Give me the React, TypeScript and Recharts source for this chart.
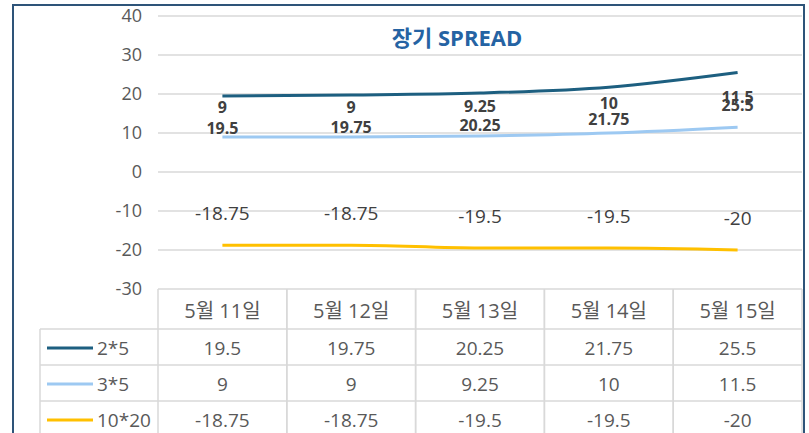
import { LineChart, Line, XAxis, YAxis, CartesianGrid, LabelList } from 'recharts'

// 날짜 / 스프레드 값 (bp)
const categories = ['5월 11일', '5월 12일', '5월 13일', '5월 14일', '5월 15일']
const spread2x5 = [19.5, 19.75, 20.25, 21.75, 25.5]
const spread3x5 = [9, 9, 9.25, 10, 11.5]
const spread10x20 = [-18.75, -18.75, -19.5, -19.5, -20]
const yTicks = [-30, -20, -10, 0, 10, 20, 30, 40]

const series = [
  { key: 's2x5', name: '2*5', color: '#1D5F80', values: spread2x5, dy: 32, size: 16, bold: true },
  { key: 's3x5', name: '3*5', color: '#9DC9F2', values: spread3x5, dy: -30, size: 16, bold: true },
  { key: 's10x20', name: '10*20', color: '#FFC000', values: spread10x20, dy: -32, size: 19, bold: false },
]

const data = categories.map((date, i) => {
  const row: Record<string, string | number> = { date }
  series.forEach(s => { row[s.key] = s.values[i] })
  return row
})

const W = 809
const H = 433
const PLOT_LEFT = 158
const PLOT_RIGHT = 802
const COL_W = (PLOT_RIGHT - PLOT_LEFT) / categories.length
const HEAD_H = 40
const ROW_H = 36
const BOTTOM = 104
const GRID = '#D9D9D9'
const TEXT = '#595959'
const FONT = "'Open Sans', 'Noto Sans CJK KR', sans-serif"

// x축 눈금 = 데이터 표의 한 열
function TableTick(props: any) {
  const { x, y, payload, index } = props
  const l = x - COL_W / 2
  const r = x + COL_W / 2
  const bottom = y + HEAD_H + ROW_H * series.length + 10
  return (
    <g>
      <line x1={l} x2={l} y1={y} y2={bottom} stroke={GRID} strokeWidth={1.5} />
      <line x1={r} x2={r} y1={y} y2={bottom} stroke={GRID} strokeWidth={1.5} />
      <text x={x} y={y + HEAD_H / 2 + 1} textAnchor="middle" dominantBaseline="central" fill={TEXT} fontSize={20}>
        {payload.value}
      </text>
      {series.map((s, i) => {
        const top = y + HEAD_H + ROW_H * i
        return (
          <g key={s.key}>
            <line x1={l} x2={r} y1={top} y2={top} stroke={GRID} strokeWidth={1.5} />
            <text x={x} y={top + ROW_H / 2 + 1} textAnchor="middle" dominantBaseline="central" fill={TEXT} fontSize={19}>
              {s.values[index]}
            </text>
          </g>
        )
      })}
      <line x1={l} x2={r} y1={y + HEAD_H + ROW_H * series.length} y2={y + HEAD_H + ROW_H * series.length} stroke={GRID} strokeWidth={1.5} />
    </g>
  )
}

function makeLabel(dy: number, size: number, bold: boolean) {
  return (p: any) => {
    const px = p.x ?? p.viewBox?.x
    const py = p.y ?? p.viewBox?.y
    return (
      <text x={px} y={py + dy} textAnchor="middle" dominantBaseline="central"
        fill="#404040" fontSize={size} fontWeight={bold ? 700 : 400}>
        {p.value}
      </text>
    )
  }
}

export default function App() {
  const tableTop = H - BOTTOM - HEAD_H // y = -30 선
  return (
    <div style={{ position: 'absolute', left: 0, top: 0, width: W, height: H, overflow: 'hidden', background: '#fff', fontFamily: FONT }}>
      <LineChart width={W} height={H} data={data} margin={{ top: 16, right: W - PLOT_RIGHT, bottom: BOTTOM, left: 0 }}>
        <CartesianGrid vertical={false} stroke={GRID} strokeWidth={1.5} />
        <XAxis dataKey="date" height={HEAD_H} axisLine={false} tickLine={false} tickSize={0} tickMargin={0}
          interval={0} padding={{ left: COL_W / 2, right: COL_W / 2 }} tick={<TableTick />} />
        <YAxis width={PLOT_LEFT} domain={[-30, 40]} ticks={yTicks} axisLine={false} tickLine={false}
          tickSize={0} tickMargin={16} tick={{ fill: TEXT, fontSize: 18 }} />
        {series.map(s => (
          <Line key={s.key} type="monotone" dataKey={s.key} name={s.name} stroke={s.color} strokeWidth={3}
            dot={false} isAnimationActive={false}>
            <LabelList dataKey={s.key} content={makeLabel(s.dy, s.size, s.bold)} />
          </Line>
        ))}
      </LineChart>
      <svg width={W} height={H} style={{ position: 'absolute', left: 0, top: 0, pointerEvents: 'none' }}>
        <text x={457} y={37} textAnchor="middle" dominantBaseline="central" fill="#2563A3" fontSize={22} fontWeight={700}>
          장기 SPREAD
        </text>
        {series.map((s, i) => {
          const top = tableTop + HEAD_H + ROW_H * i
          return (
            <g key={s.key}>
              <line x1={40} x2={PLOT_LEFT} y1={top} y2={top} stroke={GRID} strokeWidth={1.5} />
              <line x1={47} x2={93} y1={top + ROW_H / 2 + 1} y2={top + ROW_H / 2 + 1} stroke={s.color} strokeWidth={3} />
              <text x={97} y={top + ROW_H / 2 + 1} dominantBaseline="central" fill={TEXT} fontSize={19}>{s.name}</text>
            </g>
          )
        })}
        <line x1={40} x2={40} y1={tableTop + HEAD_H} y2={H} stroke={GRID} strokeWidth={1.5} />
        <rect x={13} y={5} width={791} height={H + 20} fill="none" stroke="#2E5479" strokeWidth={2} />
      </svg>
    </div>
  )
}
